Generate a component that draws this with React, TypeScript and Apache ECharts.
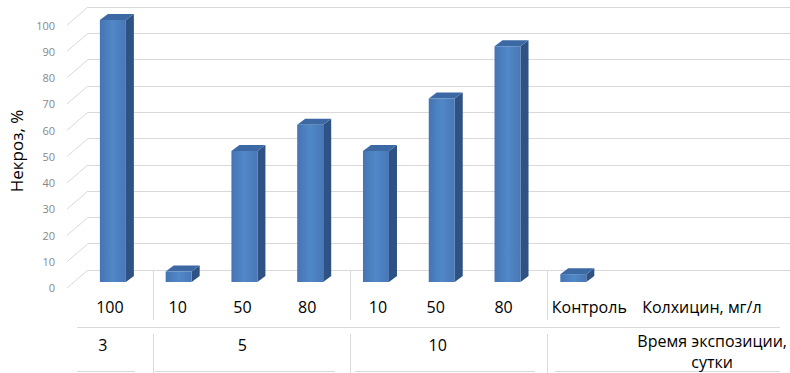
import React, { useEffect, useRef } from 'react';
import * as echarts from 'echarts';

const concentrations = ['100', '10', '50', '80', '10', '50', '80', 'Контроль'];
const exposureDays = ['3', '', '5', '', '', '10', '', ''];
const necrosis = [100, 4, 50, 60, 50, 70, 90, 3];
const yTicks = [0, 10, 20, 30, 40, 50, 60, 70, 80, 90, 100];
const groupBoundaries = [1, 4, 7];
const yTitle = 'Некроз, %';
const xTitle = 'Колхицин, мг/л';
const groupTitle = 'Время экспозиции,\nсутки';

const FONT = '"Open Sans", sans-serif';
const GRID_LINE = '#d9d9d9';
const labelShift = [-10, -8, -9, -10, -5, -13, -11, 9];
const groupShift = [-17, 0, -9, 0, 0, -11, 0, 0];

function richFor(shifts: number[], size: number) {
  const rich: Record<string, any> = {};
  shifts.forEach((s, i) => {
    rich['t' + i] = {
      fontFamily: FONT,
      fontSize: size,
      color: '#000',
      padding: s < 0 ? [0, -2 * s, 0, 0] : [0, 0, 0, 2 * s],
    };
  });
  return rich;
}

export default function App() {
  const ref = useRef<HTMLDivElement>(null);
  useEffect(() => {
    const chart = echarts.init(ref.current!, null, { renderer: 'svg' });
    const option: any = {
      animation: false,
      grid: [
        { left: 80.33, top: 20, width: 533.33, height: 262 },
        { left: 88, top: 7, right: 0, height: 263 },
        { left: 67, top: 25, width: 10, height: 262.5 },
      ],
      xAxis: [
        {
          gridIndex: 0,
          type: 'category',
          data: concentrations,
          axisLine: { show: false },
          axisTick: { show: false },
          axisLabel: {
            interval: 0,
            margin: 17,
            fontFamily: FONT,
            fontSize: 16,
            color: '#000',
            formatter: (v: string, i: number) => `{t${i}|${v}}`,
            rich: richFor(labelShift, 16),
          },
          name: xTitle,
          nameLocation: 'end',
          nameGap: 29,
          nameTextStyle: {
            fontFamily: FONT,
            fontSize: 16,
            color: '#000',
            align: 'left',
            verticalAlign: 'top',
            padding: [17, 0, 0, 0],
          },
        },
        {
          gridIndex: 0,
          type: 'category',
          data: exposureDays,
          position: 'bottom',
          offset: 45,
          axisLine: { show: false },
          axisTick: { show: false },
          axisLabel: {
            interval: 0,
            margin: 10,
            fontFamily: FONT,
            fontSize: 16,
            color: '#000',
            formatter: (v: string, i: number) => (v ? `{t${i}|${v}}` : ''),
            rich: richFor(groupShift, 16),
          },
          name: groupTitle,
          nameLocation: 'end',
          nameGap: 99,
          nameTextStyle: {
            fontFamily: FONT,
            fontSize: 16,
            lineHeight: 21,
            color: '#000',
            align: 'center',
            verticalAlign: 'top',
            padding: [3, 0, 0, 0],
          },
        },
        { gridIndex: 1, type: 'value', min: 0, max: 1, show: false },
        { gridIndex: 2, type: 'value', min: 0, max: 1, show: false },
      ],
      yAxis: [
        {
          gridIndex: 0,
          type: 'value',
          min: 0,
          max: 100,
          axisLine: { show: false },
          axisTick: { show: false },
          axisLabel: { show: false },
          splitLine: { show: false },
          name: yTitle,
          nameLocation: 'middle',
          nameGap: 62,
          nameRotate: 90,
          nameTextStyle: { fontFamily: FONT, fontSize: 17, color: '#000' },
        },
        {
          gridIndex: 1,
          type: 'value',
          min: 0,
          max: 100,
          interval: 10,
          axisLine: { show: false },
          axisTick: { show: false },
          axisLabel: { show: false },
          splitLine: { show: true, lineStyle: { color: GRID_LINE, width: 1 } },
        },
        {
          gridIndex: 2,
          type: 'value',
          min: 0,
          max: 100,
          interval: 10,
          axisLine: { show: false },
          axisTick: { show: false },
          splitLine: { show: false },
          axisLabel: { color: '#888', fontSize: 11, fontFamily: FONT, margin: 12 },
        },
      ],
      graphic: [
        { type: 'line', shape: { x1: 77, y1: 327.5, x2: 780, y2: 327.5 }, style: { stroke: GRID_LINE, lineWidth: 1 } },
        { type: 'line', shape: { x1: 77, y1: 371.5, x2: 135, y2: 371.5 }, style: { stroke: GRID_LINE, lineWidth: 1 } },
        { type: 'line', shape: { x1: 155, y1: 371.5, x2: 335, y2: 371.5 }, style: { stroke: GRID_LINE, lineWidth: 1 } },
        { type: 'line', shape: { x1: 355, y1: 371.5, x2: 535, y2: 371.5 }, style: { stroke: GRID_LINE, lineWidth: 1 } },
        { type: 'line', shape: { x1: 555, y1: 371.5, x2: 780, y2: 371.5 }, style: { stroke: GRID_LINE, lineWidth: 1 } },
      ],
      series: [
        {
          type: 'custom',
          name: 'wall-diagonals',
          xAxisIndex: 2,
          yAxisIndex: 1,
          data: yTicks.map((v) => [0, v]),
          renderItem: (_p: any, api: any) => {
            const p = api.coord([0, api.value(1)]);
            return {
              type: 'line',
              shape: { x1: p[0], y1: p[1], x2: p[0] - 21, y2: p[1] + 18 },
              style: { stroke: GRID_LINE, lineWidth: 1 },
            };
          },
        },
        {
          type: 'custom',
          name: 'dividers',
          xAxisIndex: 0,
          yAxisIndex: 0,
          data: groupBoundaries.map((b) => [b, 0]),
          renderItem: (_p: any, api: any) => {
            const b = api.value(0);
            const a = api.coord([b - 1, 0]);
            const c = api.coord([b, 0]);
            const x = Math.round((a[0] + c[0]) / 2) + 0.5;
            const y0 = a[1];
            return {
              type: 'group',
              children: [
                { type: 'line', shape: { x1: x, y1: y0 - 12, x2: x, y2: y0 + 38 }, style: { stroke: GRID_LINE, lineWidth: 1 } },
                { type: 'line', shape: { x1: x, y1: y0 + 52, x2: x, y2: y0 + 91 }, style: { stroke: GRID_LINE, lineWidth: 1 } },
              ],
            };
          },
        },
        {
          type: 'custom',
          name: 'Некроз',
          xAxisIndex: 0,
          yAxisIndex: 0,
          data: necrosis.map((v, i) => [i, v]),
          renderItem: (_p: any, api: any) => {
            const i = api.value(0);
            const v = api.value(1);
            const top = api.coord([i, v]);
            const base = api.coord([i, 0]);
            const cx = top[0] - 7;
            const x0 = cx - 13;
            const x1 = cx + 13;
            const yt = top[1];
            const yb = base[1];
            const dx = 8;
            const dy = -6;
            return {
              type: 'group',
              children: [
                {
                  type: 'polygon',
                  shape: { points: [[x1, yt], [x1 + dx, yt + dy], [x1 + dx, yb + dy], [x1, yb]] },
                  style: { fill: '#2e5283' },
                },
                {
                  type: 'polygon',
                  shape: { points: [[x0, yt], [x1, yt], [x1 + dx, yt + dy], [x0 + dx, yt + dy]] },
                  style: { fill: '#3c68a3' },
                },
                {
                  type: 'rect',
                  shape: { x: x0, y: yt, width: x1 - x0, height: yb - yt },
                  style: {
                    fill: new echarts.graphic.LinearGradient(0, 0, 1, 0, [
                      { offset: 0, color: '#4574b2' },
                      { offset: 0.5, color: '#5188c8' },
                      { offset: 1, color: '#4877b6' },
                    ]),
                  },
                },
              ],
            };
          },
        },
      ],
    };
    chart.setOption(option);
    return () => chart.dispose();
  }, []);
  return (
    <div
      ref={ref}
      style={{ position: 'fixed', left: 0, top: 0, width: 790, height: 373, background: '#fff' }}
    />
  );
}
